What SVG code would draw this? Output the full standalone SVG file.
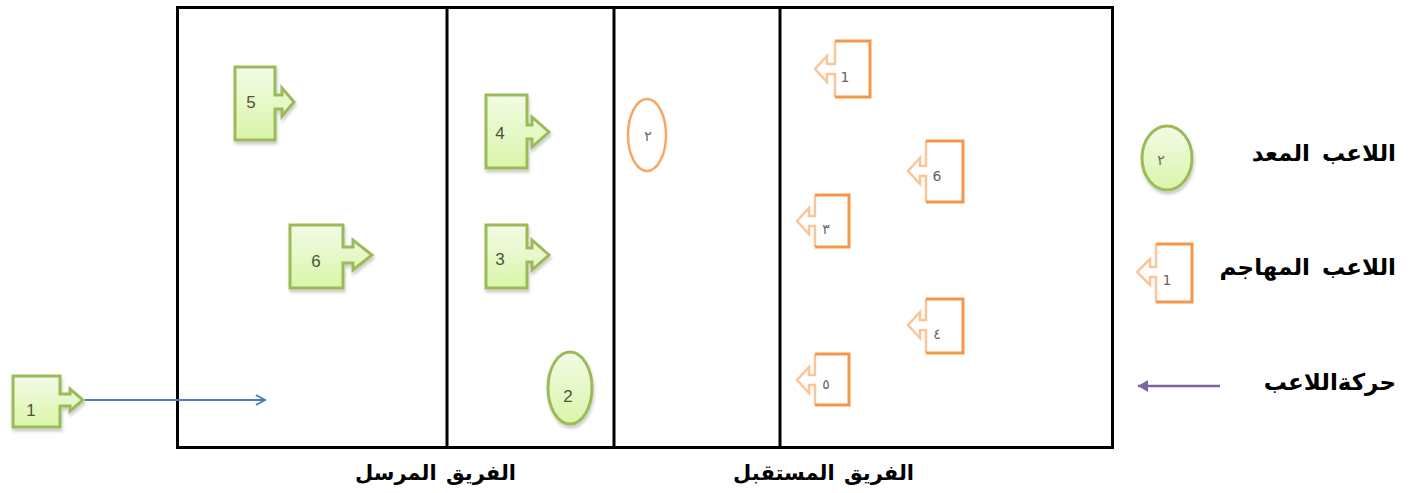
<svg xmlns="http://www.w3.org/2000/svg" width="1413" height="493" viewBox="0 0 1413 493">
<defs>
<linearGradient id="gg" x1="0" y1="0" x2="0" y2="1">
<stop offset="0" stop-color="#f2fbe6"/>
<stop offset="1" stop-color="#d9f5a9"/>
</linearGradient>
<filter id="sh" x="-20%" y="-20%" width="150%" height="150%">
<feDropShadow dx="1" dy="3" stdDeviation="1.5" flood-color="#000" flood-opacity="0.2"/>
</filter>
<marker id="openArrow" markerWidth="12" markerHeight="12" refX="10" refY="6" orient="auto" markerUnits="userSpaceOnUse">
<path d="M1,1 L10,6 L1,11" fill="none" stroke="#4a7ebb" stroke-width="2"/>
</marker>
<marker id="solidArrow" markerWidth="12" markerHeight="12" refX="10" refY="6" orient="auto" markerUnits="userSpaceOnUse">
<path d="M0,0 L10,6 L0,12 Z" fill="#8064a2"/>
</marker>
</defs>
<style>
.frame{fill:none;stroke:#000;stroke-width:3}
.div{stroke:#000;stroke-width:3}
.green{fill:url(#gg);stroke:#9bbb59;stroke-width:3;filter:url(#sh)}
.orange{fill:none;stroke:#f79646;stroke-width:3}
.oarrow{fill:#fff;stroke:#fbc59a;stroke-width:2.5}
.gnum{font-family:"Liberation Sans",Arial,sans-serif;font-size:17px;fill:#4b5340;text-anchor:middle}
.onum{font-family:"DejaVu Sans","Liberation Sans",sans-serif;font-size:14px;fill:#666;text-anchor:middle}
.ar{font-family:"DejaVu Sans","Noto Sans",sans-serif;font-weight:bold;fill:#000;text-anchor:end}
.lg{font-size:23px;word-spacing:4px}
.bt{font-size:21px;word-spacing:2px}
</style>

<g id="field">
<rect class="frame" x="177.5" y="7.5" width="935" height="440"/>
<line class="div" x1="447" y1="7.5" x2="447" y2="447.5"/>
<line class="div" x1="614" y1="7.5" x2="614" y2="447.5"/>
<line class="div" x1="780" y1="7.5" x2="780" y2="447.5"/>
</g>

<g id="label-sending"><text class="ar bt" x="516" y="480">الفريق المرسل</text></g>
<g id="label-receiving"><text class="ar bt" x="914" y="480">الفريق المستقبل</text></g>

<g id="g1">
<path class="green" d="M13,376 H60 V394 H70 V389 L83,400 L70,411 V406 H60 V427 H13 Z"/>
<text class="gnum" x="31" y="416">1</text>
</g>
<g id="g5">
<path class="green" d="M235,67 H275 V95 H282 V88 L294,102 L282,116 V109 H275 V140 H235 Z"/>
<text class="gnum" x="251" y="108">5</text>
</g>
<g id="g6">
<path class="green" d="M290,225 H343 V247 H353 V240 L372,255 L353,270 V263 H343 V288 H290 Z"/>
<text class="gnum" x="316" y="267">6</text>
</g>
<g id="g4">
<path class="green" d="M486,95 H527 V125 H532 V117 L549,132 L532,147 V139 H527 V168 H486 Z"/>
<text class="gnum" x="500" y="139">4</text>
</g>
<g id="g3">
<path class="green" d="M486,225 H527 V248 H532 V240 L549,255 L532,270 V262 H527 V288 H486 Z"/>
<text class="gnum" x="500" y="265">3</text>
</g>
<g id="g2">
<ellipse class="green" cx="570" cy="388" rx="22" ry="36"/>
<text class="gnum" x="568" y="402">2</text>
</g>

<g id="o-setter">
<ellipse cx="647" cy="135" rx="19" ry="36" fill="#fff" stroke="#f79646" stroke-width="2.5" stroke-opacity="0.85"/>
<text class="onum" x="648" y="141">٢</text>
</g>
<g id="o1">
<path class="oarrow" d="M835,97 V74 H827 V82 L815,69 L827,56 V64 H835 V41"/>
<path class="orange" d="M835,41 H870 V97 H835"/>
<text class="onum" x="845" y="82">1</text>
</g>
<g id="o6">
<path class="oarrow" d="M926,202 V176 H920 V184 L908,171 L920,158 V166 H926 V141"/>
<path class="orange" d="M926,141 H963 V202 H926"/>
<text class="onum" x="937" y="181">6</text>
</g>
<g id="o3">
<path class="oarrow" d="M815,247 V226 H809 V234 L797,221 L809,208 V216 H815 V195"/>
<path class="orange" d="M815,195 H849 V247 H815"/>
<text class="onum" x="826" y="234">٣</text>
</g>
<g id="o4">
<path class="oarrow" d="M926,353 V330 H920 V338 L908,325 L920,312 V320 H926 V299"/>
<path class="orange" d="M926,299 H963 V353 H926"/>
<text class="onum" x="937" y="339">٤</text>
</g>
<g id="o5">
<path class="oarrow" d="M815,405 V385 H809 V393 L797,380 L809,367 V375 H815 V354"/>
<path class="orange" d="M815,354 H849 V405 H815"/>
<text class="onum" x="826" y="389">٥</text>
</g>

<g id="legend-setter">
<ellipse class="green" cx="1167" cy="158" rx="25" ry="32"/>
<text class="onum" x="1161" y="165">٢</text>
<text class="ar lg" x="1396" y="161">اللاعب المعد</text>
</g>
<g id="legend-attacker">
<path class="oarrow" d="M1156,302 V277 H1150 V285 L1137,272 L1150,259 V267 H1156 V244"/>
<path class="orange" d="M1156,244 H1192 V302 H1156"/>
<text class="onum" x="1167" y="285">1</text>
<text class="ar lg" x="1396" y="275">اللاعب المهاجم</text>
</g>
<g id="legend-move">
<text class="ar lg" x="1396" y="390">حركةاللاعب</text>
</g>

<g id="connectors">
<line x1="85" y1="400" x2="265" y2="400" stroke="#4a7ebb" stroke-width="2" marker-end="url(#openArrow)"/>
<line x1="1220" y1="386" x2="1138" y2="386" stroke="#8064a2" stroke-width="2.5" marker-end="url(#solidArrow)"/>
</g>
</svg>
